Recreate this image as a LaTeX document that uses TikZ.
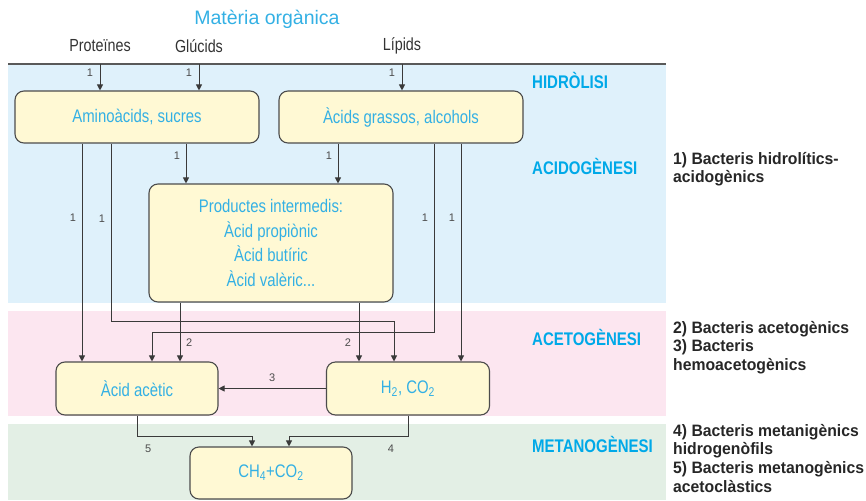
\documentclass[tikz,border=0pt]{standalone}
\usepackage{fontspec}
\setmainfont{Liberation Sans}
\newfontfamily\condfont[FakeStretch=0.82]{Liberation Sans}
\newfontfamily\bactfont[FakeStretch=0.955]{Liberation Sans}
\usetikzlibrary{arrows.meta,positioning,backgrounds}
\definecolor{stagecyan}{HTML}{00A9E8}
\definecolor{boxcyan}{HTML}{33B0E4}
\definecolor{boxfill}{HTML}{FFF9D4}
\definecolor{bandblue}{HTML}{DFF1FB}
\definecolor{bandpink}{HTML}{FCE6F0}
\definecolor{bandgreen}{HTML}{E3EFE5}
\definecolor{linegray}{HTML}{3A3A3A}
\tikzset{
  procbox/.style={draw=black!70,fill=boxfill,rounded corners=9pt,line width=1.1pt,text=boxcyan,font=\condfont\fontsize{18.2}{24.5}\selectfont,align=center,inner sep=0pt},
  srcnode/.style={font=\condfont\fontsize{17.5}{20}\selectfont,text=black!80},
  stagelbl/.style={font=\condfont\bfseries\fontsize{18.3}{20}\selectfont,text=stagecyan,anchor=west,inner sep=0pt},
  bactlbl/.style={font=\bactfont\bfseries\fontsize{16.5}{18.6}\selectfont,text=black!85,anchor=north west,align=left,inner sep=0pt},
  num/.style={font=\fontsize{11}{12}\selectfont,text=black!70,inner sep=1.5pt},
  flow/.style={-{Triangle[length=6pt,width=6pt]},line width=1pt,linegray},
}

\begin{document}
\begin{tikzpicture}[x=1pt,y=-1pt]
  \useasboundingbox (0,0) rectangle (866,500);
  % bands
  \fill[bandblue] (8,64) rectangle (666,303);
  \fill[bandpink] (8,311) rectangle (666,416);
  \fill[bandgreen] (8,424) rectangle (666,500);
  \coordinate (tl) at (8,64);
  \coordinate (tr) at (666,64);
  \draw[line width=1.4pt,black!65] (tl) -- (tr);

  \node[font=\fontsize{19.5}{22}\selectfont,text=boxcyan] (title) at (267,19) {Matèria orgànica};
  \node[srcnode] (prot) at (100,46) {Proteïnes};
  \node[srcnode] (gluc) at (199,46) {Glúcids};
  \node[srcnode] (lip) at (402,46) {Lípids};

  \node[procbox,minimum width=244pt,minimum height=52pt] (amino) at (137,117) {Aminoàcids, sucres};
  \node[procbox,minimum width=244pt,minimum height=52pt] (acids) at (401,117) {Àcids grassos, alcohols};
  \node[procbox,minimum width=244pt,minimum height=118pt] (inter) at (271,243) {Productes intermedis:\\Àcid propiònic\\Àcid butíric\\Àcid valèric...};
  \node[procbox,minimum width=162pt,minimum height=53pt] (acet) at (137,388.5) {Àcid acètic};
  \node[procbox,minimum width=163pt,minimum height=53pt] (htwo) at (408,388.5) {H\textsubscript{2}, CO\textsubscript{2}};
  \node[procbox,minimum width=162pt,minimum height=52pt] (meth) at (271,473) {CH\textsubscript{4}+CO\textsubscript{2}};

  % stages
  \node[stagelbl] (hidro) at (532,80) {HIDRÒLISI};
  \node[stagelbl] (acido) at (532,166) {ACIDOGÈNESI};
  \node[stagelbl] (aceto) at (532,337) {ACETOGÈNESI};
  \node[stagelbl] (metano) at (532,444) {METANOGÈNESI};
  \node[bactlbl] (bact1) at (673,152) {1) Bacteris hidrolítics-\\acidogènics};
  \node[bactlbl] (bact2) at (673,321) {2) Bacteris acetogènics\\3) Bacteris\\hemoacetogènics};
  \node[bactlbl] (bact3) at (673,424) {4) Bacteris metanigènics\\hidrogenòfils\\5) Bacteris metanogènics\\acetoclàstics};

  % hydrolysis
  \draw[flow] (prot |- tl) -- ([xshift=-37pt]amino.north) node[num,left=5pt,pos=.33] {1};
  \draw[flow] (gluc |- tl) -- ([xshift=62pt]amino.north) node[num,left=5pt,pos=.33] {1};
  \draw[flow] (lip |- tl) -- ([xshift=1pt]acids.north) node[num,left=5pt,pos=.33] {1};

  % acidogenesis
  \draw[flow] ([xshift=-55pt]amino.south) -- ([xshift=-55pt]acet.north) node[num,left=4pt,pos=.34] {1};
  \draw[flow] ([xshift=-26pt]amino.south) -- ++(0,178) node[num,left=4pt,pos=.42] {1} -| ([xshift=-14pt]htwo.north);
  \draw[flow] ([xshift=49pt]amino.south) -- ([xshift=-85pt]inter.north) node[num,left=4pt,pos=.3] {1};
  \draw[flow] ([xshift=-63pt]acids.south) -- ([xshift=67pt]inter.north) node[num,left=4pt,pos=.3] {1};
  \draw[flow] ([xshift=33pt]acids.south) -- ++(0,189) node[num,left=4pt,pos=.39] {1} -| ([xshift=15pt]acet.north);
  \draw[flow] ([xshift=60pt]acids.south) -- ([xshift=53pt]htwo.north) node[num,left=4pt,pos=.34] {1};

  % acetogenesis
  \draw[flow] ([xshift=-91pt]inter.south) -- ([xshift=43pt]acet.north) node[num,right=4pt,pos=.68] {2};
  \draw[flow] ([xshift=88pt]inter.south) -- ([xshift=-49pt]htwo.north) node[num,left=6pt,pos=.68] {2};
  \draw[flow] (htwo.west) -- (acet.east) node[num,above=5pt,midway] {3};

  % methanogenesis
  \draw[flow] (acet.south) -- ++(0,21) node[num,below right=6pt and 6pt] {5} -| ([xshift=-19pt]meth.north);
  \draw[flow] (htwo.south) -- ++(0,21) node[num,below left=6pt and 12pt] {4} -| ([xshift=18pt]meth.north);
\end{tikzpicture}
\end{document}
